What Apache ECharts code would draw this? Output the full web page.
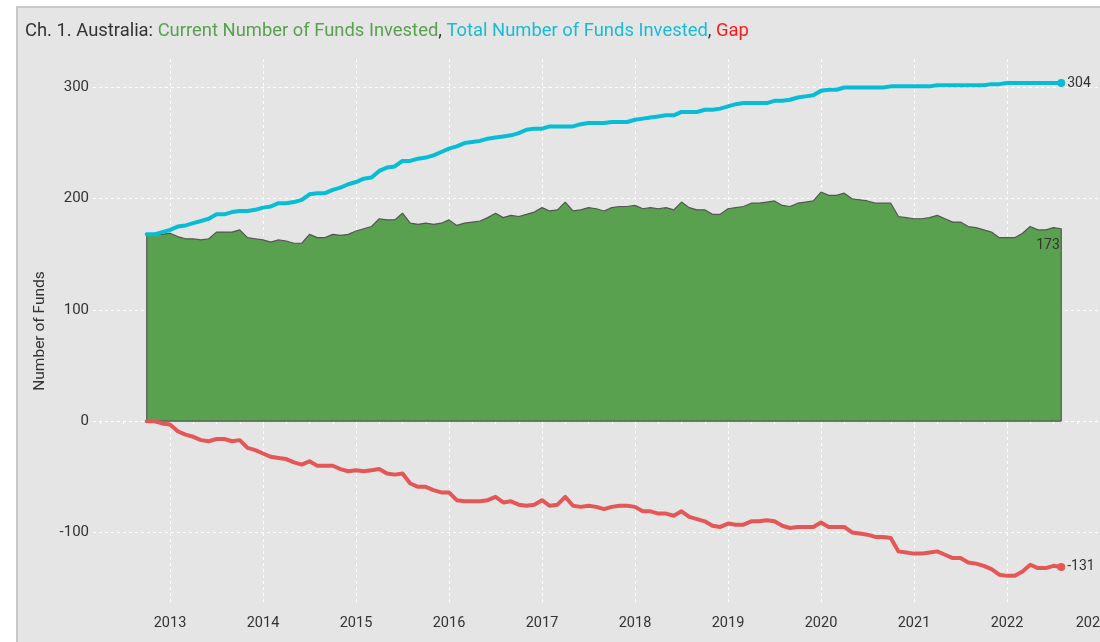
<!DOCTYPE html>
<html>
<head>
<meta charset="utf-8">
<title>Ch. 1. Australia</title>
<script src="https://cdn.jsdelivr.net/npm/echarts@6/dist/echarts.min.js"></script>
<style>
  html, body { margin: 0; padding: 0; background: #ffffff; width: 1100px; height: 642px; overflow: hidden; }
  #panel { position: absolute; left: 16px; top: 6px; width: 1200px; height: 700px; background: #e5e5e5;
           border-left: 2px solid #c8c8c8; border-top: 2px solid #c8c8c8; }
  #chart { position: absolute; left: 0; top: 0; width: 1100px; height: 642px; }
</style>
</head>
<body>
<div id="panel"></div>
<div id="chart"></div>
<script>
// Monthly observations, Oct 2012 – Aug 2022
const months = [
  '2012-10','2012-11','2012-12',
  '2013-01','2013-02','2013-03','2013-04','2013-05','2013-06','2013-07','2013-08','2013-09','2013-10','2013-11','2013-12',
  '2014-01','2014-02','2014-03','2014-04','2014-05','2014-06','2014-07','2014-08','2014-09','2014-10','2014-11','2014-12',
  '2015-01','2015-02','2015-03','2015-04','2015-05','2015-06','2015-07','2015-08','2015-09','2015-10','2015-11','2015-12',
  '2016-01','2016-02','2016-03','2016-04','2016-05','2016-06','2016-07','2016-08','2016-09','2016-10','2016-11','2016-12',
  '2017-01','2017-02','2017-03','2017-04','2017-05','2017-06','2017-07','2017-08','2017-09','2017-10','2017-11','2017-12',
  '2018-01','2018-02','2018-03','2018-04','2018-05','2018-06','2018-07','2018-08','2018-09','2018-10','2018-11','2018-12',
  '2019-01','2019-02','2019-03','2019-04','2019-05','2019-06','2019-07','2019-08','2019-09','2019-10','2019-11','2019-12',
  '2020-01','2020-02','2020-03','2020-04','2020-05','2020-06','2020-07','2020-08','2020-09','2020-10','2020-11','2020-12',
  '2021-01','2021-02','2021-03','2021-04','2021-05','2021-06','2021-07','2021-08','2021-09','2021-10','2021-11','2021-12',
  '2022-01','2022-02','2022-03','2022-04','2022-05','2022-06','2022-07','2022-08'
];

// Current Number of Funds Invested
const currentFunds = [
  168,168,168,
  169,166,164,164,163,164,170,170,170,172,165,164,
  163,161,163,162,160,160,168,165,165,168,167,168,
  171,173,175,182,181,181,187,178,177,178,177,178,
  181,176,178,179,180,183,187,183,185,184,186,188,
  192,189,190,197,189,190,192,191,189,192,193,193,
  194,191,192,191,192,190,197,192,190,190,186,186,
  191,192,193,196,196,197,198,194,193,196,197,198,
  206,203,203,205,200,199,198,196,196,196,184,183,
  182,182,183,185,182,179,179,175,174,172,170,165,
  165,165,169,175,172,172,174,173
];

// Total Number of Funds Invested
const totalFunds = [
  168,168,170,
  172,175,176,178,180,182,186,186,188,189,189,190,
  192,193,196,196,197,199,204,205,205,208,210,213,
  215,218,219,225,228,229,234,234,236,237,239,242,
  245,247,250,251,252,254,255,256,257,259,262,263,
  263,265,265,265,265,267,268,268,268,269,269,269,
  271,272,273,274,275,275,278,278,278,280,280,281,
  283,285,286,286,286,286,288,288,289,291,292,293,
  297,298,298,300,300,300,300,300,300,301,301,301,
  301,301,301,302,302,302,302,302,302,302,303,303,
  304,304,304,304,304,304,304,304
];

// Gap (current minus total)
const gapFunds = [
  0,0,-2,
  -3,-9,-12,-14,-17,-18,-16,-16,-18,-17,-24,-26,
  -29,-32,-33,-34,-37,-39,-36,-40,-40,-40,-43,-45,
  -44,-45,-44,-43,-47,-48,-47,-56,-59,-59,-62,-64,
  -64,-71,-72,-72,-72,-71,-68,-73,-72,-75,-76,-75,
  -71,-76,-75,-68,-76,-77,-76,-77,-79,-77,-76,-76,
  -77,-81,-81,-83,-83,-85,-81,-86,-88,-90,-94,-95,
  -92,-93,-93,-90,-90,-89,-90,-94,-96,-95,-95,-95,
  -91,-95,-95,-95,-100,-101,-102,-104,-104,-105,-117,-118,
  -119,-119,-118,-117,-120,-123,-123,-127,-128,-130,-133,-138,
  -139,-139,-135,-129,-132,-132,-130,-131
];

// Axis ticks
const yearTicks = [2013, 2014, 2015, 2016, 2017, 2018, 2019, 2020, 2021, 2022, 2023];
const quarterTicks = [
  2012.25, 2012.5, 2012.75,
  2013.25, 2013.5, 2013.75, 2014.25, 2014.5, 2014.75, 2015.25, 2015.5, 2015.75,
  2016.25, 2016.5, 2016.75, 2017.25, 2017.5, 2017.75, 2018.25, 2018.5, 2018.75,
  2019.25, 2019.5, 2019.75, 2020.25, 2020.5, 2020.75, 2021.25, 2021.5, 2021.75,
  2022.25, 2022.5, 2022.75
];
const valueTicks = [-100, 0, 100, 200, 300];

const FONT = 'Roboto, "Noto Sans", "DejaVu Sans", sans-serif';
const TEXT = '#333333';
const GREEN = '#59a14f';
const CYAN = '#07bcd5';
const RED = '#e45756';

// month string -> fractional year on the x axis
const toYear = m => {
  const [y, mo] = m.split('-').map(Number);
  return y + (mo - 1) / 12;
};
const xs = months.map(toYear);
const last = xs.length - 1;

function lineData(values, color) {
  const d = values.map((v, i) => [xs[i], v]);
  d[last] = {
    value: [xs[last], values[last]],
    symbol: 'circle',
    symbolSize: 8,
    itemStyle: { color: color },
    label: {
      show: true, position: 'right', distance: 2,
      color: TEXT, fontSize: 14, fontFamily: FONT,
      formatter: p => String(p.value[1])
    }
  };
  return d;
}

// Closed outline for the area: drop to zero at both ends
const areaData = [[xs[0], 0]]
  .concat(currentFunds.map((v, i) => [xs[i], v]))
  .concat([[xs[last], 0]]);

const GRID = { left: 93, right: 0, top: 59, bottom: 39, outerBoundsMode: 'none', containLabel: false };
const X_MIN = 2012.172, X_MAX = 2023;
const Y_MIN = -163.4, Y_MAX = 325.6;

const chart = echarts.init(document.getElementById('chart'), null, { renderer: 'canvas' });

const titleStyle = color => ({ color: color, fontSize: 18.4, fontWeight: 'normal', fontFamily: FONT });

chart.setOption({
  animation: false,
  backgroundColor: 'transparent',
  textStyle: { fontFamily: FONT },
  title: {
    left: 25, top: 22, padding: 0,
    text: '{k|Ch. 1. Australia: }{g|Current Number of Funds Invested}{k|, }{c|Total Number of Funds Invested}{k|, }{r|Gap}',
    textStyle: {
      fontWeight: 'normal',
      rich: {
        k: titleStyle(TEXT),
        g: titleStyle(GREEN),
        c: titleStyle('#17bcd3'),
        r: titleStyle('#ff1a1a')
      }
    }
  },
  grid: [Object.assign({}, GRID), Object.assign({}, GRID)],
  xAxis: [
    {
      type: 'value', gridIndex: 0, min: X_MIN, max: X_MAX,
      axisLine: { show: false },
      axisTick: { show: true, length: 7, customValues: yearTicks,
                  lineStyle: { color: '#ffffff', type: [3, 3], width: 1 } },
      axisLabel: {
        customValues: yearTicks, margin: 13, color: TEXT, fontSize: 14.5, fontFamily: FONT,
        // the last year sits on the right edge; nudge it slightly inward
        formatter: v => (v === X_MAX ? '{e|' + v + '}' : String(v)),
        rich: { e: { color: TEXT, fontSize: 14.5, fontFamily: FONT, padding: [0, 16, 0, 0] } }
      },
      splitLine: { show: true, lineStyle: { color: '#ffffff', type: [3, 3], width: 1 } }
    },
    {
      type: 'value', gridIndex: 1, min: X_MIN, max: X_MAX,
      axisLine: { show: false },
      axisTick: { show: true, length: 3, customValues: quarterTicks,
                  lineStyle: { color: '#ffffff', width: 1 } },
      axisLabel: { show: false },
      splitLine: { show: false }
    }
  ],
  yAxis: [
    {
      type: 'value', gridIndex: 0, min: Y_MIN, max: Y_MAX,
      name: 'Number of Funds', nameLocation: 'middle', nameGap: 45,
      nameTextStyle: { color: TEXT, fontSize: 15.5, fontFamily: FONT },
      axisLine: { show: false },
      axisTick: { show: false, customValues: valueTicks },
      axisLabel: { customValues: valueTicks, margin: 4, color: TEXT, fontSize: 15, fontFamily: FONT },
      splitLine: { show: true, lineStyle: { color: '#ffffff', type: [3, 3], width: 1 } }
    },
    { type: 'value', gridIndex: 1, min: Y_MIN, max: Y_MAX, show: false }
  ],
  series: [
    {
      name: 'Current Number of Funds Invested',
      type: 'line', xAxisIndex: 0, yAxisIndex: 0, z: 2,
      data: areaData,
      symbol: 'none',
      lineStyle: { color: '#555555', width: 1.2 },
      areaStyle: { color: GREEN, opacity: 1 },
      markPoint: {
        symbol: 'circle', symbolSize: 1,
        itemStyle: { color: 'rgba(0,0,0,0)' },
        label: { show: true, position: 'left', distance: 1, offset: [0, 17],
                 color: TEXT, fontSize: 14, fontFamily: FONT, formatter: p => String(p.value) },
        data: [{ coord: [xs[last], currentFunds[last]], value: currentFunds[last] }]
      }
    },
    {
      name: 'Current Number of Funds Invested (base)',
      type: 'line', xAxisIndex: 0, yAxisIndex: 0, z: 2,
      data: [[xs[0], 0], [xs[last], 0]],
      symbol: 'none',
      lineStyle: { color: '#555555', width: 1.2 }
    },
    {
      name: 'Total Number of Funds Invested',
      type: 'line', xAxisIndex: 0, yAxisIndex: 0, z: 3,
      data: lineData(totalFunds, CYAN),
      symbol: 'none',
      itemStyle: { color: CYAN },
      lineStyle: { color: CYAN, width: 4, cap: 'round', join: 'round' }
    },
    {
      name: 'Gap',
      type: 'line', xAxisIndex: 0, yAxisIndex: 0, z: 3,
      data: lineData(gapFunds, RED),
      symbol: 'none',
      itemStyle: { color: RED },
      lineStyle: { color: RED, width: 4, cap: 'round', join: 'round' }
    }
  ]
});
</script>
</body>
</html>
